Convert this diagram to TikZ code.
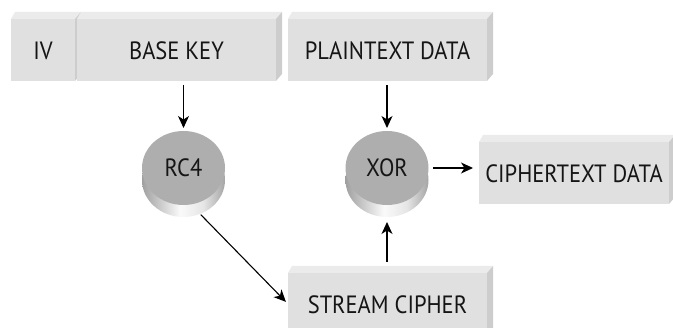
\documentclass[tikz,border=0pt]{standalone}
\usepackage{fontspec}
\setmainfont{PT Sans}[FakeStretch=0.9]
\usetikzlibrary{arrows.meta,calc,shapes.geometric}
\definecolor{frontc}{HTML}{E0E0E0}
\definecolor{topc}{HTML}{EBEBEB}
\definecolor{sidec}{HTML}{CDCDCD}
\definecolor{txtc}{HTML}{151515}
\definecolor{diskc}{HTML}{AEAEAE}
\pgfdeclarehorizontalshading{rimshade}{100bp}{color(0bp)=(black!62); color(20bp)=(black!45); color(48bp)=(black!2); color(62bp)=(black!10); color(85bp)=(black!55); color(100bp)=(black!72)}
\begin{document}
\begin{tikzpicture}[x=1pt,y=-1pt,
  box/.style={fill=frontc, inner sep=0pt, outer sep=0pt, minimum height=62pt,
    text=txtc, font=\fontsize{25}{28}\selectfont, text height=19.5pt, text depth=0pt},
  disktop/.style={ellipse, inner sep=0pt, outer sep=0pt, minimum width=83pt, minimum height=74pt,
    fill=diskc, text=txtc,
    font=\fontsize{25}{28}\selectfont, text height=18pt, text depth=0pt},
  diskside/.style={ellipse, inner sep=0pt, outer sep=0pt, minimum width=83pt, minimum height=74pt,
    shading=rimshade, shading angle=0, shade},
  arr/.style={-{Stealth[length=12pt,width=11pt,inset=3.5pt]}, line width=1.1pt, black}
]
\useasboundingbox (0,0) rectangle (673,328);
\clip (0,0) rectangle (673,328);
\newcommand{\boxfaces}[1]{%
  \fill[topc] (#1.north west) -- ($(#1.north west)+(4,-7)$) -- ($(#1.north east)+(6,-7)$) -- (#1.north east) -- cycle;
  \fill[sidec] (#1.north east) -- ($(#1.north east)+(6,-7)$) -- ($(#1.south east)+(6,-7)$) -- (#1.south east) -- cycle;
}
% boxes
\node[box, minimum width=64pt] (iv) at (43,50) {IV};
\boxfaces{iv}
\node[box, minimum width=199pt] (basekey) at (176.5,50) {BASE KEY};
\boxfaces{basekey}
\node[box, minimum width=199pt] (plain) at (387.5,50) {PLAINTEXT DATA};
\boxfaces{plain}
\node[box, minimum width=190pt] (cipher) at (574,173) {CIPHERTEXT DATA};
\boxfaces{cipher}
\node[box, minimum width=199pt] (stream) at (387.5,304) {STREAM CIPHER};
\boxfaces{stream}
% disks
\node[diskside] (rc4side) at (183.5,180) {};
\node[disktop] (rc4) at (183.5,168) {RC4};
\node[diskside] (xorside) at (387,180) {};
\node[disktop] (xor) at (387,168) {XOR};
% arrows
\draw[arr, shorten <=4pt, shorten >=3pt] (basekey.south -| rc4.north) -- (rc4.north);
\draw[arr, shorten <=4pt, shorten >=3pt] (plain.south -| xor.north) -- (xor.north);
\draw[arr, shorten >=5pt] ([yshift=11pt]stream.north -| xorside.south) -- (xorside.south);
\draw[arr, shorten <=4.5pt, shorten >=6pt] (xor.east) -- (xor.east -| cipher.west);
\draw[arr, shorten <=1pt, shorten >=3pt] (rc4side.-64) -- (stream.west);
\end{tikzpicture}
\end{document}
